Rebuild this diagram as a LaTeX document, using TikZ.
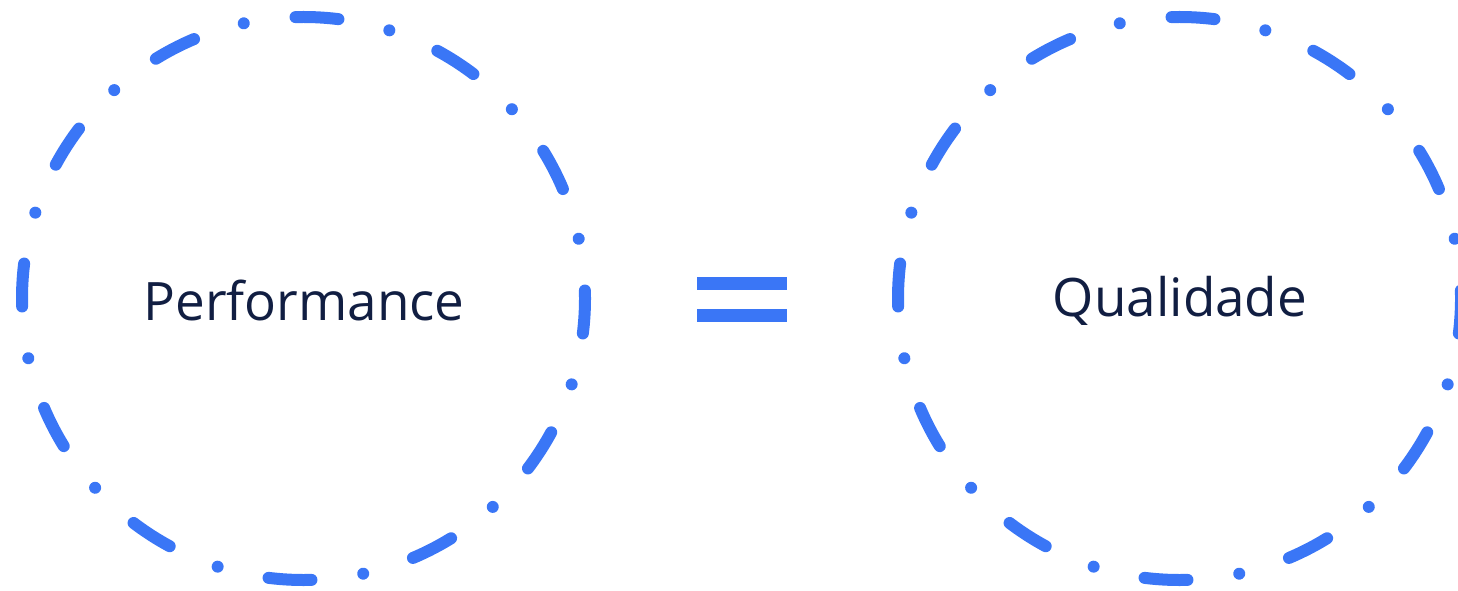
\documentclass[tikz,border=0pt]{standalone}
\usepackage{fontspec}
\setmainfont{Open Sans}
\definecolor{ringblue}{HTML}{3A76F6}
\definecolor{navy}{HTML}{111E42}
\begin{document}
\begin{tikzpicture}[x=1pt,y=1pt,
  ring/.style={circle,draw=ringblue,line width=12pt,line cap=round,
    minimum size=563pt,inner sep=0pt,outer sep=0pt,
    dash pattern=on 43pt off 52.2pt on 0.01pt off 52.2pt,dash phase=35pt},
  word/.style={anchor=base,text=navy,inner sep=0pt,font=\fontsize{53}{64}\selectfont},
  bar/.style={draw=ringblue,line width=13pt,line cap=butt}]
\useasboundingbox (0,0) rectangle (1458,590);
\node[ring] (c1) at (303.5,291.5) {};
\node[ring] (c2) at (1179.5,291.5) {};
\node[word] (t1) at (304,270) {Performance};
\node[word] (t2) at (1180,274) {Qualidade};
\coordinate (e1a) at (697,306.5);
\coordinate (e1b) at (787,306.5);
\coordinate (e2a) at (697,275);
\coordinate (e2b) at (787,275);
\draw[bar] (e1a) -- (e1b);
\draw[bar] (e2a) -- (e2b);
\end{tikzpicture}
\end{document}
